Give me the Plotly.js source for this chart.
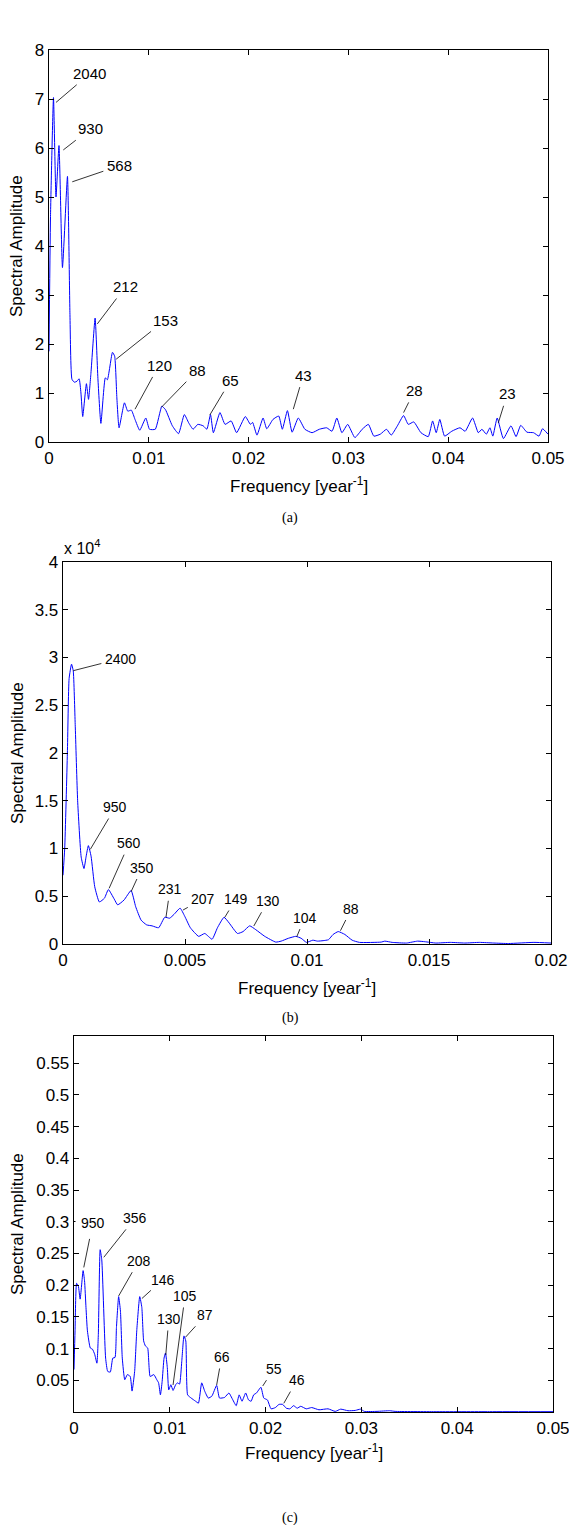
<!DOCTYPE html>
<html>
<head>
<meta charset="utf-8">
<script src="https://cdn.plot.ly/plotly-3.0.1.min.js"></script>
<style>html,body{margin:0;padding:0;background:#fff;}#chart{width:569px;height:1525px;}</style>
</head>
<body>
<div id="chart"></div>
<script>
// ---------- Panel (a) ----------
const freqA = [0, 0.00015, 0.00045, 0.0007, 0.001, 0.00135, 0.00185, 0.0021, 0.0023, 0.00255, 0.0028, 0.00302, 0.0032, 0.00338, 0.00375, 0.00396, 0.0042, 0.00462, 0.0049, 0.0052, 0.00564, 0.00585, 0.00636, 0.00658, 0.0068, 0.00702, 0.00756, 0.00789, 0.00825, 0.00862, 0.00909, 0.0097, 0.01007, 0.01065, 0.01131, 0.01167, 0.01236, 0.01298, 0.01356, 0.014, 0.01444, 0.01491, 0.01545, 0.01582, 0.01618, 0.01647, 0.01713, 0.01764, 0.01825, 0.0188, 0.01967, 0.02018, 0.0204, 0.02084, 0.02145, 0.02182, 0.02244, 0.02302, 0.02338, 0.02389, 0.02436, 0.02498, 0.02564, 0.02636, 0.02709, 0.02782, 0.02836, 0.02884, 0.02935, 0.02993, 0.03065, 0.03138, 0.032, 0.03255, 0.0332, 0.03382, 0.03429, 0.03491, 0.03553, 0.036, 0.03655, 0.03727, 0.038, 0.03844, 0.0388, 0.03916, 0.03964, 0.04036, 0.04118, 0.0417, 0.04244, 0.04302, 0.04338, 0.04382, 0.04418, 0.04447, 0.04491, 0.04553, 0.04629, 0.0468, 0.04727, 0.04789, 0.04855, 0.0491, 0.04945, 0.05];
const ampA = [1.85, 4.6, 7.03, 5.0, 6.05, 3.56, 5.42, 2.6, 1.28, 1.22, 1.24, 1.29, 1.0, 0.52, 1.19, 0.87, 1.4, 2.53, 1.3, 0.38, 1.31, 1.27, 1.83, 1.75, 0.9, 0.29, 0.80, 0.63, 0.65, 0.46, 0.24, 0.49, 0.26, 0.26, 0.73, 0.66, 0.33, 0.17, 0.56, 0.39, 0.26, 0.36, 0.33, 0.26, 0.56, 0.19, 0.60, 0.36, 0.43, 0.19, 0.52, 0.36, 0.40, 0.14, 0.49, 0.27, 0.46, 0.53, 0.26, 0.64, 0.20, 0.49, 0.26, 0.19, 0.26, 0.29, 0.22, 0.49, 0.19, 0.36, 0.09, 0.26, 0.36, 0.12, 0.16, 0.26, 0.14, 0.33, 0.54, 0.36, 0.41, 0.19, 0.11, 0.43, 0.19, 0.46, 0.12, 0.22, 0.29, 0.22, 0.49, 0.19, 0.26, 0.16, 0.29, 0.12, 0.49, 0.07, 0.33, 0.11, 0.34, 0.20, 0.19, 0.12, 0.27, 0.16];
const labelsA = ['2040', '930', '568', '212', '153', '120', '88', '65', '43', '28', '23'];
const labelFreqA = [0.0007, 0.00143, 0.00233, 0.00484, 0.00673, 0.00862, 0.01127, 0.01611, 0.02448, 0.03553, 0.04502];
const labelAmpA = [6.93, 5.96, 5.31, 2.41, 1.69, 0.67, 0.71, 0.55, 0.67, 0.60, 0.39];
const xTicksA = [0, 0.01, 0.02, 0.03, 0.04, 0.05];
const xTickTextA = ['0', '0.01', '0.02', '0.03', '0.04', '0.05'];
const yTicksA = [0, 1, 2, 3, 4, 5, 6, 7, 8];
const yTickTextA = ['0', '1', '2', '3', '4', '5', '6', '7', '8'];

// ---------- Panel (b) ----------
const freqB = [0, 0.00007, 0.00018, 0.00025, 0.00035, 0.00042, 0.0005, 0.0006, 0.000745, 0.00086, 0.00095, 0.00104, 0.00115, 0.0013, 0.00149, 0.0017, 0.00186, 0.0021, 0.00224, 0.0025, 0.00279, 0.00298, 0.0032, 0.00343, 0.00365, 0.00392, 0.00417, 0.00437, 0.00455, 0.0048, 0.00499, 0.00522, 0.00556, 0.00581, 0.00611, 0.00633, 0.0066, 0.00681, 0.00715, 0.00738, 0.00765, 0.0079, 0.00827, 0.00872, 0.00894, 0.00924, 0.00954, 0.00976, 0.00998, 0.01024, 0.01043, 0.01066, 0.01088, 0.01107, 0.01128, 0.01155, 0.01185, 0.01215, 0.01304, 0.01319, 0.01349, 0.01408, 0.01453, 0.01483, 0.01528, 0.01587, 0.01647, 0.01706, 0.01766, 0.01826, 0.0193, 0.02];
const ampB = [7200, 10000, 20000, 27800, 29300, 28600, 23000, 15000, 9100, 7900, 9200, 10300, 9200, 6000, 4400, 4800, 5700, 4700, 4100, 4600, 5600, 3900, 2500, 2000, 1900, 1700, 2800, 2700, 3100, 3750, 2900, 1700, 800, 1100, 500, 1700, 2800, 2200, 1100, 1300, 1900, 1500, 800, 200, 300, 600, 800, 600, 170, 400, 300, 350, 450, 1000, 1300, 1000, 400, 170, 200, 300, 170, 100, 300, 240, 100, 170, 100, 170, 100, 50, 170, 100];
const labelsB = ['2400', '950', '560', '350', '231', '207', '149', '130', '104', '88'];
const labelFreqB = [0.000422, 0.00112, 0.00189, 0.00279, 0.00422, 0.00492, 0.00663, 0.00782, 0.00958, 0.01137];
const labelAmpB = [28620, 9916, 5832, 5476, 2796, 3560, 2796, 1885, 764, 1393];
const xTicksB = [0, 0.005, 0.01, 0.015, 0.02];
const xTickTextB = ['0', '0.005', '0.01', '0.015', '0.02'];
const yTicksB = [0, 5000, 10000, 15000, 20000, 25000, 30000, 35000, 40000];
const yTickTextB = ['0', '0.5', '1', '1.5', '2', '2.5', '3', '3.5', '4'];

// ---------- Panel (c) ----------
const freqC = [0, 0.00011, 0.00027, 0.00045, 0.00064, 0.00095, 0.0011, 0.00125, 0.0014, 0.0017, 0.00193, 0.00216, 0.00239, 0.00254, 0.00273, 0.0029, 0.0033, 0.00352, 0.00379, 0.00405, 0.00428, 0.00443, 0.00466, 0.00485, 0.00504, 0.0053, 0.00557, 0.00587, 0.00606, 0.00633, 0.00655, 0.00686, 0.00708, 0.00727, 0.00746, 0.00769, 0.00795, 0.00833, 0.00864, 0.00883, 0.00902, 0.0092, 0.0094, 0.00955, 0.00974, 0.00989, 0.01011, 0.01034, 0.01061, 0.0108, 0.01102, 0.01125, 0.01148, 0.01167, 0.01186, 0.01223, 0.01269, 0.01299, 0.01333, 0.01364, 0.01402, 0.01439, 0.01489, 0.01519, 0.01572, 0.01617, 0.01648, 0.01693, 0.01724, 0.01754, 0.01792, 0.01822, 0.01849, 0.01875, 0.01905, 0.01951, 0.01981, 0.02019, 0.02057, 0.02102, 0.0214, 0.02178, 0.02216, 0.02254, 0.02292, 0.0233, 0.02367, 0.02424, 0.02481, 0.02557, 0.02652, 0.02727, 0.02784, 0.0286, 0.02936, 0.02992, 0.0303, 0.03163, 0.03295, 0.03352, 0.03769, 0.04337, 0.05];
const ampC = [0.067, 0.128, 0.203, 0.199, 0.178, 0.223, 0.207, 0.165, 0.128, 0.101, 0.099, 0.091, 0.077, 0.122, 0.256, 0.24, 0.085, 0.064, 0.063, 0.085, 0.086, 0.133, 0.182, 0.159, 0.085, 0.051, 0.059, 0.056, 0.033, 0.064, 0.128, 0.182, 0.165, 0.112, 0.104, 0.101, 0.056, 0.059, 0.051, 0.046, 0.027, 0.048, 0.085, 0.093, 0.07, 0.035, 0.043, 0.034, 0.043, 0.046, 0.044, 0.080, 0.12, 0.112, 0.027, 0.022, 0.017, 0.014, 0.046, 0.033, 0.022, 0.025, 0.042, 0.022, 0.023, 0.03, 0.022, 0.01, 0.027, 0.017, 0.03, 0.019, 0.017, 0.027, 0.03, 0.039, 0.022, 0.019, 0.005, 0.007, 0.012, 0.012, 0.006, 0.005, 0.01, 0.006, 0.009, 0.005, 0.007, 0.0035, 0.005, 0.001, 0.0045, 0.002, 0.0025, 0.0045, 0.001, 0.001, 0.002, 0.001, 0.0005, 0.0005, 0.0005];
const labelsC = ['950', '356', '208', '146', '130', '105', '87', '66', '55', '46'];
const labelFreqC = [0.00102, 0.00311, 0.00466, 0.00709, 0.00958, 0.01034, 0.01163, 0.01489, 0.0197, 0.0219];
const labelAmpC = [0.228, 0.244, 0.183, 0.179, 0.0899, 0.0426, 0.1178, 0.0426, 0.041, 0.0137];
const xTicksC = [0, 0.01, 0.02, 0.03, 0.04, 0.05];
const xTickTextC = ['0', '0.01', '0.02', '0.03', '0.04', '0.05'];
const yTicksC = [0.05, 0.1, 0.15, 0.2, 0.25, 0.3, 0.35, 0.4, 0.45, 0.5, 0.55];
const yTickTextC = ['0.05', '0.1', '0.15', '0.2', '0.25', '0.3', '0.35', '0.4', '0.45', '0.5', '0.55'];

const captions = ['(a)', '(b)', '(c)'];
const xTitle = 'Frequency [year<sup>-1</sup>]';
const yTitle = 'Spectral Amplitude';
const scaleLabelB = 'x 10<sup>4</sup>';

// ---------- styling / layout (positions in px) ----------
const W = 569, H = 1525;
const SANS = 'Liberation Sans, Arial, sans-serif';
const px = v => v / W;
const py = v => 1 - v / H;
const boxes = [
  {l: 49, r: 548, t: 50, b: 442},
  {l: 63, r: 551, t: 562, b: 944},
  {l: 74, r: 553, t: 1036, b: 1412}
];
const offsets = [
  {ax: [34, 27, 47, 28, 49, 24, 36, 21, 10, 11, 9], ay: [-29, -21, -16, -37, -39, -44, -37, -35, -34, -22, -29], size: 15},
  {ax: [47, 25, 20, 11, 4, 20, 11, 14, 8, 11], ay: [-12, -42, -45, -24, -28, -11, -18, -25, -19, -22], size: 14},
  {ax: [9, 31, 20, 21, 3, 12, 20, 5, 11, 13], ay: [-44, -39, -35, -19, -36, -89, -22, -28, -17, -23], size: 14}
];

const lineStyle = {color: '#0000ff', width: 1, shape: 'spline', smoothing: 0.45};
const data = [
  {x: freqA, y: ampA, xaxis: 'x', yaxis: 'y', type: 'scatter', mode: 'lines', line: lineStyle, hoverinfo: 'skip'},
  {x: freqB, y: ampB, xaxis: 'x2', yaxis: 'y2', type: 'scatter', mode: 'lines', line: lineStyle, hoverinfo: 'skip'},
  {x: freqC, y: ampC, xaxis: 'x3', yaxis: 'y3', type: 'scatter', mode: 'lines', line: lineStyle, hoverinfo: 'skip'}
];

function axis(box, horiz, range, tv, tt, anchor) {
  return {
    domain: horiz ? [px(box.l), px(box.r)] : [py(box.b), py(box.t)],
    range: range, autorange: false,
    tickmode: 'array', tickvals: tv, ticktext: tt,
    ticks: 'inside', ticklen: 5, tickwidth: 1, tickcolor: '#000',
    showline: true, linecolor: '#000', linewidth: 1.3, mirror: 'ticks',
    showgrid: false, zeroline: false, anchor: anchor,
    ticklabeloverflow: 'allow',
    tickfont: {family: SANS, size: 17, color: '#000'},
    fixedrange: true
  };
}

const layout = {
  width: W, height: H,
  margin: {l: 0, r: 0, t: 0, b: 0},
  paper_bgcolor: '#fff', plot_bgcolor: '#fff',
  showlegend: false,
  xaxis: axis(boxes[0], true, [0, 0.05], xTicksA, xTickTextA, 'y'),
  yaxis: axis(boxes[0], false, [0, 8], yTicksA, yTickTextA, 'x'),
  xaxis2: axis(boxes[1], true, [0, 0.02], xTicksB, xTickTextB, 'y2'),
  yaxis2: axis(boxes[1], false, [0, 40000], yTicksB, yTickTextB, 'x2'),
  xaxis3: axis(boxes[2], true, [0, 0.05], xTicksC, xTickTextC, 'y3'),
  yaxis3: axis(boxes[2], false, [0, 0.593], yTicksC, yTickTextC, 'x3'),
  annotations: []
};

const panels = [
  {labels: labelsA, f: labelFreqA, a: labelAmpA, xr: 'x', yr: 'y'},
  {labels: labelsB, f: labelFreqB, a: labelAmpB, xr: 'x2', yr: 'y2'},
  {labels: labelsC, f: labelFreqC, a: labelAmpC, xr: 'x3', yr: 'y3'}
];
panels.forEach((p, i) => {
  p.labels.forEach((t, k) => {
    const ann = {
      text: t, x: p.f[k], y: p.a[k], xref: p.xr, yref: p.yr,
      showarrow: true, arrowhead: 0, arrowwidth: 0.8, arrowcolor: '#000',
      ax: offsets[i].ax[k], ay: offsets[i].ay[k], axref: 'pixel', ayref: 'pixel',
      startstandoff: 2, standoff: 0,
      font: {family: SANS, size: offsets[i].size, color: '#000'}
    };
    if (i === 2 && k === 0) { ann.bgcolor = '#fff'; ann.borderpad = 5; }
    layout.annotations.push(ann);
  });
});

const xTitleY = [485, 987, 1452];
const captionY = [518, 1018, 1518];
boxes.forEach((b, i) => {
  layout.annotations.push({
    text: xTitle, xref: 'paper', yref: 'paper', x: px((b.l + b.r) / 2), y: py(xTitleY[i]),
    xanchor: 'center', yanchor: 'middle', showarrow: false,
    font: {family: SANS, size: 17, color: '#000'}
  });
  layout.annotations.push({
    text: yTitle, xref: 'paper', yref: 'paper', x: px(17), y: py((b.t + b.b) / 2),
    xanchor: 'center', yanchor: 'middle', showarrow: false, textangle: -90,
    font: {family: SANS, size: 17, color: '#000'}
  });
  layout.annotations.push({
    text: captions[i], xref: 'paper', yref: 'paper', x: px(290), y: py(captionY[i]),
    xanchor: 'center', yanchor: 'middle', showarrow: false,
    font: {family: 'Liberation Serif, Times New Roman, serif', size: 14, color: '#000'}
  });
});
layout.annotations.push({
  text: scaleLabelB, xref: 'paper', yref: 'paper', x: px(62), y: py(547),
  xanchor: 'left', yanchor: 'middle', showarrow: false,
  font: {family: SANS, size: 16, color: '#000'}
});

Plotly.newPlot('chart', data, layout, {staticPlot: true, displayModeBar: false});
</script>
</body>
</html>
